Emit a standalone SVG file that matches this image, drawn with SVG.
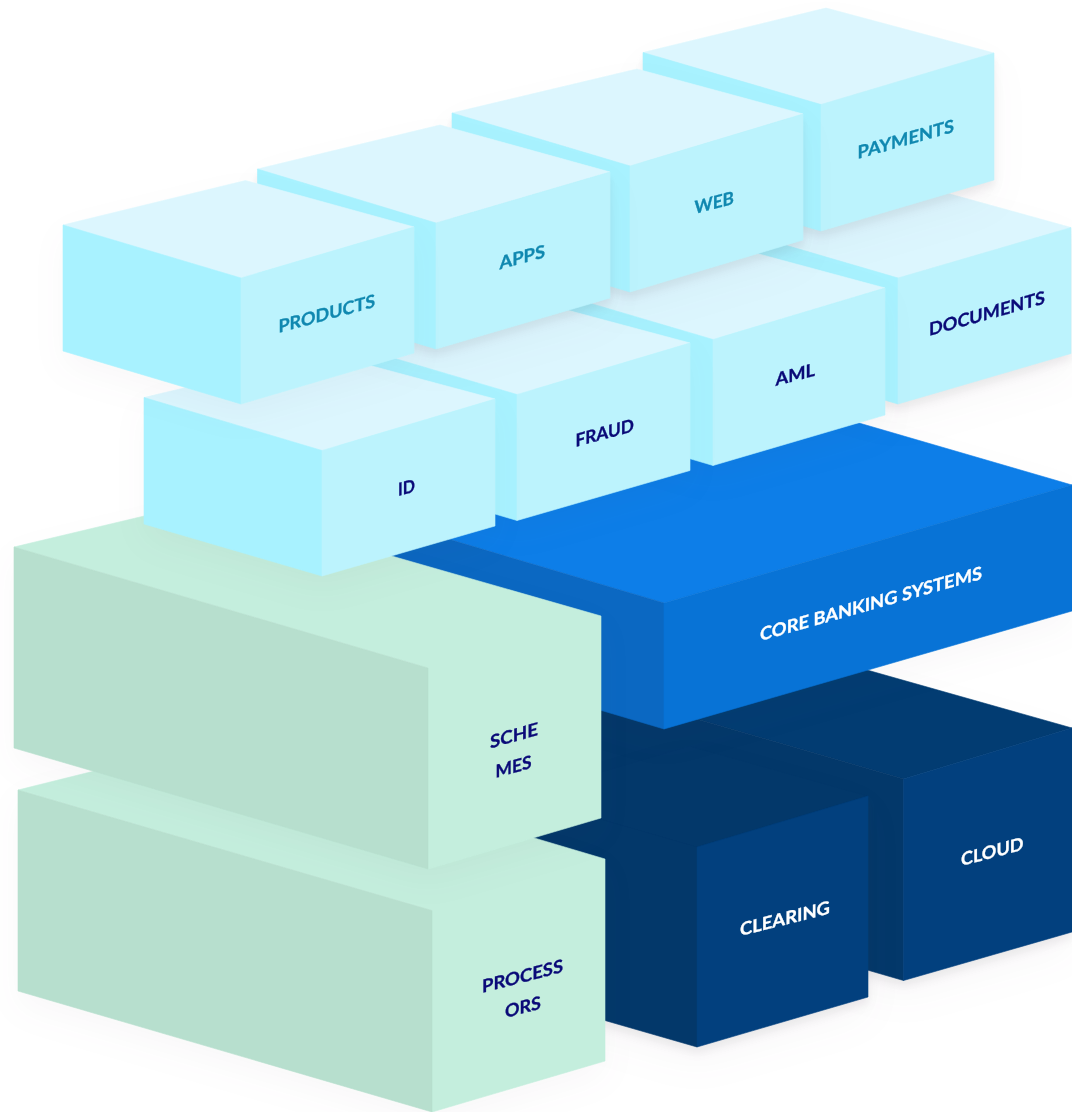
<svg xmlns="http://www.w3.org/2000/svg" width="1072" height="1112" viewBox="0 0 1072 1112">
<defs>
<style>
polygon{stroke-width:.6;stroke-linejoin:round}
.t1{fill:#dcf6fe;stroke:#dcf6fe}.l1{fill:#a8f2ff;stroke:#a8f2ff}.r1{fill:#bcf3fd;stroke:#bcf3fd}
.t2{fill:#c4eedd;stroke:#c4eedd}.l2{fill:#b7dfce;stroke:#b7dfce}
.t3{fill:#0d7ee8;stroke:#0d7ee8}.r3{fill:#0873d6;stroke:#0873d6}.l3{fill:#0b68c2;stroke:#0b68c2}
.t4{fill:#023c72;stroke:#023c72}.l4{fill:#03386a;stroke:#03386a}.r4{fill:#02407e;stroke:#02407e}
.box{filter:url(#sh)}.soft{filter:url(#so)}
text{font-family:"Lato","Liberation Sans",sans-serif;font-weight:700;font-size:18px;stroke-width:.3px}
.a{fill:#1088b0;stroke:#1088b0}.b{fill:#0a0a78;stroke:#0a0a78}.c{fill:#fff;stroke:#fff}
</style>
<filter id="sh" filterUnits="userSpaceOnUse" x="-60" y="-60" width="1192" height="1232" color-interpolation-filters="sRGB">
<feGaussianBlur in="SourceAlpha" stdDeviation="18" result="b1"/>
<feOffset in="b1" dy="18" result="o1"/>
<feFlood flood-color="#4a3f4f" flood-opacity=".035"/>
<feComposite in2="o1" operator="in" result="s1"/>
<feGaussianBlur in="SourceAlpha" stdDeviation="4" result="b2"/>
<feOffset in="b2" dy="6" result="o2"/>
<feFlood flood-color="#4a3f4f" flood-opacity=".09"/>
<feComposite in2="o2" operator="in" result="s2"/>
<feMerge><feMergeNode in="s1"/><feMergeNode in="s2"/><feMergeNode in="SourceGraphic"/></feMerge>
</filter>
<filter id="so" filterUnits="userSpaceOnUse" x="-60" y="-60" width="1192" height="1232" color-interpolation-filters="sRGB">
<feGaussianBlur in="SourceAlpha" stdDeviation="16" result="b1"/>
<feOffset in="b1" dy="14" result="o1"/>
<feFlood flood-color="#4a3f4f" flood-opacity=".035"/>
<feComposite in2="o1" operator="in" result="s1"/>
<feMerge><feMergeNode in="s1"/><feMergeNode in="SourceGraphic"/></feMerge>
</filter>
</defs>
<g id="cloud" class="box">
<polygon class="t4" points="500,662 867,670 1072,728 903.5,779"/>
<polygon class="l4" points="500,662 903.5,779 903.5,980.5 500,863.5"/>
<polygon class="r4" points="903.5,779 1072,728 1072,932 903.5,980.5"/>
<text class="c" transform="matrix(1,-.26,0,1,961,866)" textLength="62.5" lengthAdjust="spacingAndGlyphs">CLOUD</text>
</g>
<g id="clearing" class="box">
<polygon class="l4" points="520,796 690,746 868,796 697,847"/>
<polygon class="l4" points="520,796 697,847 697,1047 520,996"/>
<polygon class="r4" points="697,847 868,796 868,997 697,1047"/>
<text class="c" transform="matrix(1,-.25,0,1,740,936)" textLength="90" lengthAdjust="spacingAndGlyphs">CLEARING</text>
</g>
<g id="core-banking-systems" class="soft">
<polygon class="t3" points="350,510 859,423 1072,485 664,603"/>
<polygon class="l3" points="350,510 664,603 664,729 350,636"/>
<polygon class="r3" points="664,603 1072,485 1072,611 664,729"/>
<text class="c" transform="matrix(1,-.28,0,1,760,641)" textLength="222" lengthAdjust="spacingAndGlyphs">CORE BANKING SYSTEMS</text>
</g>
<g id="processors" class="soft">
<polygon class="t2" points="18,790 211,742 605,859 605,1061 432,1112 432,910.5"/>
<polygon class="l2" points="18,790 432,910.5 432,1112 18,991"/>
<text class="b" transform="matrix(1,-.26,0,1,482,993)" textLength="81" lengthAdjust="spacingAndGlyphs">PROCESS</text>
<text class="b" transform="matrix(1,-.26,0,1,505,1018)" textLength="36" lengthAdjust="spacingAndGlyphs">ORS</text>
</g>
<g id="schemes" class="soft">
<polygon class="t2" points="14,547 203,502 601,616 601,818 428,869 428,668"/>
<polygon class="l2" points="14,547 428,668 428,869 14,748"/>
<text class="b" transform="matrix(1,-.28,0,1,490,748.5)" textLength="48" lengthAdjust="spacingAndGlyphs">SCHE</text>
<text class="b" transform="matrix(1,-.28,0,1,495.5,778)" textLength="36" lengthAdjust="spacingAndGlyphs">MES</text>
</g>
<g id="documents" class="box">
<polygon class="t1" points="720,226 903,181 1071,227.5 898,278"/>
<polygon class="l1" points="720,226 898,278 898,404 720,352"/>
<polygon class="r1" points="898,278 1071,227.5 1071,353.5 898,404"/>
<text class="b" transform="matrix(1,-.28,0,1,929,336)" textLength="116" lengthAdjust="spacingAndGlyphs">DOCUMENTS</text>
</g>
<g id="aml" class="soft">
<polygon class="t1" points="535,287 718,243 885,288 713,339.5"/>
<polygon class="l1" points="535,287 713,339.5 713,465.5 535,413"/>
<polygon class="r1" points="713,339.5 885,288 885,415 713,465.5"/>
<text class="b" transform="matrix(1,-.26,0,1,775.5,386)" textLength="39.5" lengthAdjust="spacingAndGlyphs">AML</text>
</g>
<g id="fraud" class="soft">
<polygon class="t1" points="339,342 522,298 690,343 517,394.5"/>
<polygon class="l1" points="339,342 517,394.5 517,520.5 339,468"/>
<polygon class="r1" points="517,394.5 690,343 690,470.5 517,520.5"/>
<text class="b" transform="matrix(1,-.27,0,1,575.5,447)" textLength="58.5" lengthAdjust="spacingAndGlyphs">FRAUD</text>
</g>
<g id="id" class="soft">
<polygon class="t1" points="144,397.5 327,354 495,399 322,450.5"/>
<polygon class="l1" points="144,397.5 322,450.5 322,576 144,524"/>
<polygon class="r1" points="322,450.5 495,399 495,526 322,576"/>
<text class="b" transform="matrix(1,-.25,0,1,398,496)" textLength="17" lengthAdjust="spacingAndGlyphs">ID</text>
</g>
<g id="payments" class="box">
<polygon class="t1" points="643,52.5 826,8 994,53 821,104.5"/>
<polygon class="l1" points="643,52.5 821,104.5 821,231 643,179"/>
<polygon class="r1" points="821,104.5 994,53 994,180 821,231"/>
<text class="a" transform="matrix(1,-.28,0,1,857.5,159)" textLength="96.5" lengthAdjust="spacingAndGlyphs">PAYMENTS</text>
</g>
<g id="web" class="box">
<polygon class="t1" points="452,113 637,69 803,114 630,166"/>
<polygon class="l1" points="452,113 630,166 630,292 452,239"/>
<polygon class="r1" points="630,166 803,114 803,240 630,292"/>
<text class="a" transform="matrix(1,-.26,0,1,694.5,214)" textLength="39.5" lengthAdjust="spacingAndGlyphs">WEB</text>
</g>
<g id="apps" class="box">
<polygon class="t1" points="257.5,169 440,125 610,172 436,223"/>
<polygon class="l1" points="257.5,169 436,223 436,349 257.5,295"/>
<polygon class="r1" points="436,223 610,172 610,298 436,349"/>
<text class="a" transform="matrix(1,-.27,0,1,499.5,269.5)" textLength="45.5" lengthAdjust="spacingAndGlyphs">APPS</text>
</g>
<g id="products" class="soft">
<polygon class="t1" points="63,225 245.5,180.5 414,227 241,278"/>
<polygon class="l1" points="63,225 241,278 241,404 63,351"/>
<polygon class="r1" points="241,278 414,227 414,353 241,404"/>
<text class="a" transform="matrix(1,-.27,0,1,278.5,333)" textLength="96.5" lengthAdjust="spacingAndGlyphs">PRODUCTS</text>
</g>
</svg>
